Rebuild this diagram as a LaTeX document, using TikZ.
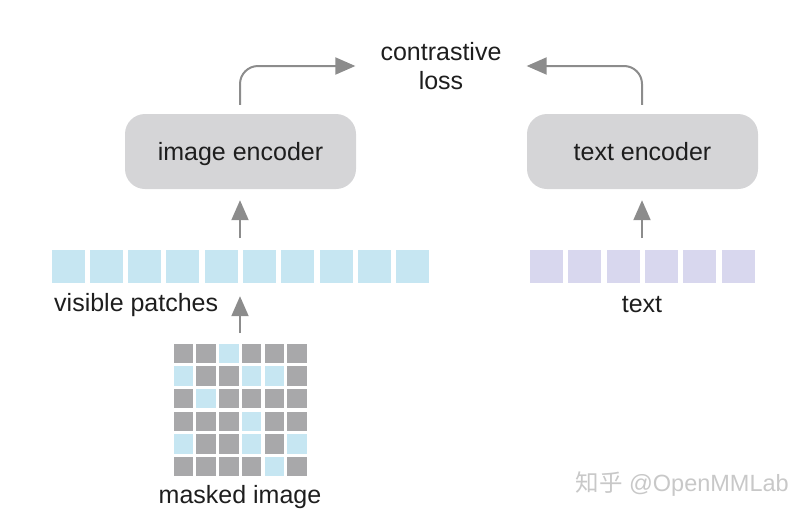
\documentclass[tikz,border=0pt]{standalone}
\usepackage{fontspec}
\setmainfont{Liberation Sans}
\newfontfamily\cjkfont{Noto Sans CJK SC}
\usetikzlibrary{arrows.meta, positioning, calc}
\definecolor{clrBox}{HTML}{D5D5D7}
\definecolor{clrArrow}{HTML}{8C8C8C}
\definecolor{clrPatch}{HTML}{C6E6F2}
\definecolor{clrToken}{HTML}{D8D7EE}
\definecolor{clrMask}{HTML}{A8A8AA}
\definecolor{clrText}{HTML}{1E1E1E}
\definecolor{clrMark}{HTML}{C8C8C8}
\tikzset{
  enc box/.style={rectangle, fill=clrBox, minimum width=231pt, minimum height=75pt, rounded corners=20pt, font=\fontsize{25}{30}\selectfont, text=clrText, text height=21pt, text depth=3pt},
  lbl/.style={font=\fontsize{25}{30}\selectfont, text=clrText, inner sep=0pt, align=center},
  patch/.style={rectangle, fill=clrPatch, minimum width=33pt, minimum height=33pt, inner sep=0pt},
  token/.style={rectangle, fill=clrToken, minimum width=33pt, minimum height=33pt, inner sep=0pt},
  cell/.style={rectangle, minimum width=19.5pt, minimum height=19.5pt, inner sep=0pt},
  arr/.style={-{Triangle[length=20pt, width=17pt]}, draw=clrArrow, line width=2pt},
}

\begin{document}
\begin{tikzpicture}[x=1pt, y=-1pt]
  \useasboundingbox (0,0) rectangle (810,520);

  % Encoders
  \node[enc box] (ienc) at (240.5,151.5) {image encoder};
  \node[enc box] (tenc) at (642.5,151.5) {text encoder};
  \node[lbl] (loss) at (441,66) {contrastive\\[-0.5pt]loss};

  % Patch rows
  \foreach \i in {1,...,10}
    \node[patch] (vis\i) at ({68+38.3*(\i-1)},266.5) {};
  \foreach \i in {1,...,6}
    \node[token] (txt\i) at ({546.5+38.3*(\i-1)},266.5) {};
  \node[lbl, anchor=west] (vislbl) at (54,305) {visible patches};
  \node[lbl] (txtlbl) at (642,305) {text};

  % Masked image grid (1 = visible)
  \foreach \pattern [count=\r] in {{0,0,1,0,0,0},{1,0,0,1,1,0},{0,1,0,0,0,0},{0,0,0,1,0,0},{1,0,0,1,0,1},{0,0,0,0,1,0}}
    \foreach \v [count=\c] in \pattern {
      \ifnum\v=1 \def\clr{clrPatch}\else \def\clr{clrMask}\fi
      \node[cell, fill=\clr] (m\r-\c) at ({183.5+22.7*(\c-1)},{353.5+22.6*(\r-1)}) {};
    }
  \node[lbl] (masklbl) at (240,497) {masked image};

  % Arrows
  \coordinate (vistop) at (240,250);
  \coordinate (txttop) at (642,250);
  \coordinate (gridtop) at (240,344);
  \draw[arr, shorten <=12pt, shorten >=11pt] (vistop) -- (ienc.south -| vistop);
  \draw[arr, shorten <=12pt, shorten >=11pt] (txttop) -- (tenc.south -| txttop);
  \draw[arr, shorten <=11pt, shorten >=13pt] (gridtop) -- (vistop |- vis1.south);
  \draw[arr, rounded corners=18pt, shorten <=9pt, shorten >=25pt] (ienc.north -| vistop) |- (loss.west);
  \draw[arr, rounded corners=18pt, shorten <=9pt, shorten >=25pt] (tenc.north -| txttop) |- (loss.east);

  % Watermark
  \node[font=\fontsize{23.5}{26}\selectfont, text=clrMark, anchor=west] (mark) at (572,484) {{\cjkfont 知乎} @OpenMMLab};
\end{tikzpicture}
\end{document}
